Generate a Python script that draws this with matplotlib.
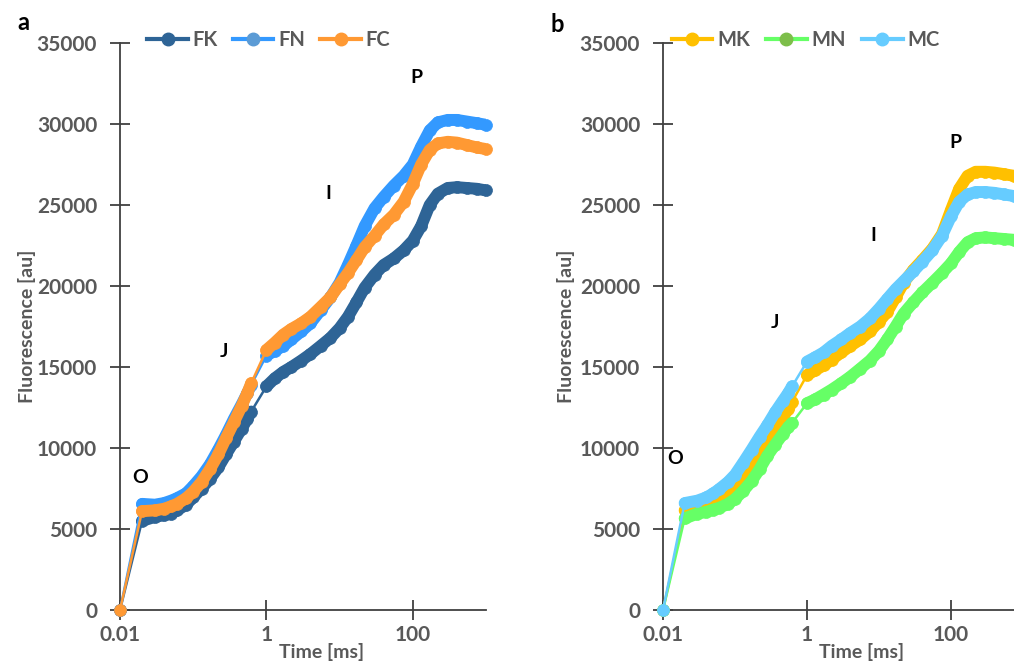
import numpy as np
import matplotlib
matplotlib.use("Agg")
import matplotlib.pyplot as plt
from matplotlib.lines import Line2D

plt.rcParams['font.family'] = ['Lato', 'DejaVu Sans']

# ---------------- data ----------------
time_ms = [0.01,
           0.02, 0.03, 0.04, 0.05, 0.06, 0.08, 0.10, 0.13, 0.17, 0.22, 0.28, 0.36, 0.46, 0.55, 0.62,
           1.0, 1.3, 1.7, 2.2, 3, 4, 5.5, 7.5, 10, 13, 17, 22, 30, 40, 55, 75, 100, 130, 170, 220,
           300, 400, 550, 750, 1000]

FK = [0,
      5500, 5750, 5850, 5950, 6150, 6500, 6950, 7500, 8100, 8800, 9600, 10400, 11200, 11800, 12250,
      13800, 14300, 14700, 15000, 15400, 15800, 16300, 16800, 17400, 18100, 19000, 19900, 20700,
      21300, 21700, 22200, 22800, 23700, 25000, 25700, 26050, 26100, 26050, 26000, 25900]
FN = [0,
      6550, 6500, 6600, 6750, 6900, 7200, 7650, 8250, 9000, 9900, 10800, 11800, 12700, 13400, 13900,
      15700, 16000, 16300, 16700, 17200, 17700, 18500, 19300, 20200, 21300, 22500, 23700, 24800,
      25500, 26200, 26800, 27500, 28600, 29600, 30100, 30250, 30250, 30150, 30050, 29950]
FC = [0,
      6100, 6150, 6250, 6400, 6550, 6900, 7300, 7900, 8700, 9600, 10600, 11600, 12600, 13400, 14000,
      16050, 16500, 17000, 17350, 17700, 18100, 18700, 19300, 20100, 20800, 21600, 22400, 23100,
      23800, 24400, 25200, 26300, 27500, 28400, 28800, 28900, 28850, 28700, 28550, 28450]

MK = [0,
      6150, 6250, 6450, 6600, 6800, 7100, 7500, 8100, 8900, 9700, 10400, 11200, 11900, 12400, 12850,
      14500, 14800, 15100, 15450, 15900, 16300, 16700, 17200, 17800, 18400, 19300, 20200, 21000,
      21600, 22300, 23200, 24700, 26000, 26800, 27050, 27050, 27000, 26900, 26800, 26700]
MN = [0,
      5650, 5950, 6050, 6200, 6300, 6550, 6850, 7350, 7950, 8700, 9500, 10200, 10850, 11300, 11550,
      12760, 13000, 13300, 13600, 14000, 14400, 14900, 15400, 16000, 16700, 17500, 18300, 19000,
      19600, 20200, 20800, 21400, 22100, 22700, 22950, 23000, 22950, 22900, 22850, 22800]
MC = [0,
      6600, 6750, 6950, 7200, 7450, 7900, 8350, 9100, 9900, 10700, 11400, 12200, 12900, 13400, 13800,
      15330, 15600, 15900, 16300, 16700, 17100, 17500, 18000, 18600, 19200, 19800, 20300, 20900,
      21500, 22200, 23100, 24300, 25200, 25650, 25800, 25800, 25750, 25650, 25550, 25450]

left_names = ['FK', 'FN', 'FC']
right_names = ['MK', 'MN', 'MC']
phase_labels = ['O', 'J', 'I', 'P']

x_ticks = [0.01, 1, 100]
x_tick_labels = ['0.01', '1', '100']
y_ticks = [0, 5000, 10000, 15000, 20000, 25000, 30000, 35000]

# ---------------- style ----------------
GRAY = '#595959'
AX = '#404040'
left_colors = ['#2E6496', '#3399FF', '#FF9933']
right_colors = ['#FFC000', '#66FF66', '#66CCFF']
left_legend_mk = ['#2E6496', '#5B9BD5', '#FF9933']
right_legend_mk = ['#FFC000', '#7DBE4A', '#66CCFF']

# annotation positions (time, value)
left_phase_pos = [(0.0188, 8150), (0.266, 15930), (7.06, 25740), (113, 32840)]
right_phase_pos = [(0.0147, 9380), (0.36, 17720), (8.25, 23090), (117, 28830)]

fig = plt.figure(figsize=(10.14, 6.64), dpi=100)
axL = fig.add_axes([120 / 1014, 54 / 664, 366 / 1014, 567 / 664])
axR = fig.add_axes([663 / 1014, 54 / 664, 360 / 1014, 567 / 664])

MS = 8.6


def draw(ax, t, y, lc, z):
    t = np.asarray(t, float)
    y = np.asarray(y, float)
    ax.plot(t, y, color=lc, lw=1.8, zorder=z, clip_on=False)
    lt = np.log10(t)
    d = np.diff(lt)
    start = 0
    for i in range(len(t) - 1):
        if d[i] > 0.19:
            if i > start:
                ax.plot(t[start:i + 1], y[start:i + 1], color=lc, lw=MS,
                        solid_capstyle='round', solid_joinstyle='round', zorder=z)
            start = i + 1
    if len(t) - 1 > start:
        ax.plot(t[start:], y[start:], color=lc, lw=MS,
                solid_capstyle='round', solid_joinstyle='round', zorder=z)
    ax.plot(t, y, ls='none', marker='o', ms=MS, mfc=lc, mec=lc, mew=0.5,
            zorder=z + 0.5, clip_on=False)


def style_axes(ax):
    ax.set_xscale('log')
    ax.set_xlim(0.01, 1000)
    ax.set_ylim(0, 35000)
    for s in ['top', 'right']:
        ax.spines[s].set_visible(False)
    for s in ['left', 'bottom']:
        ax.spines[s].set_color(AX)
        ax.spines[s].set_linewidth(1.3)
    ax.set_xticks(x_ticks)
    ax.set_xticklabels(x_tick_labels)
    ax.xaxis.set_minor_locator(matplotlib.ticker.NullLocator())
    ax.set_yticks(y_ticks)
    ax.set_yticklabels([str(v) for v in y_ticks])
    ax.tick_params(axis='both', direction='inout', length=15, width=1.3, color=AX,
                   labelcolor=GRAY, labelsize=15)
    ax.tick_params(axis='y', pad=9)
    ax.tick_params(axis='x', pad=3)
    for lab in ax.get_xticklabels() + ax.get_yticklabels():
        lab.set_fontweight('bold')
    ax.set_xlabel('Time [ms]', fontsize=14, fontweight='bold', color=GRAY)
    ax.xaxis.set_label_coords(0.552, -0.074)
    ax.xaxis.label.set_va('center')
    ax.set_ylabel('Fluorescence [au]', fontsize=14, fontweight='bold', color=GRAY)
    ax.set_facecolor('none')


for ax, names, series, colors, lmk, ppos, lx, cs in [
        (axL, left_names, [FK, FN, FC], left_colors, left_legend_mk, left_phase_pos, 0.075, 0.75),
        (axR, right_names, [MK, MN, MC], right_colors, right_legend_mk, right_phase_pos, 0.025, 0.8)]:
    style_axes(ax)
    for k, (vals, lc) in enumerate(zip(series, colors)):
        draw(ax, time_ms, vals, lc, 3 + k)
    for lab, (tx, ty) in zip(phase_labels, ppos):
        ax.text(tx, ty, lab, fontsize=14, fontweight='bold', color='black',
                ha='center', va='center', zorder=10)
    handles = [Line2D([0], [0], color=lc, lw=3, marker='o', ms=9, mfc=m, mec=m)
               for lc, m in zip(colors, lmk)]
    ax.legend(handles, names, loc='center left', bbox_to_anchor=(lx, 1.005),
              frameon=False, ncol=3, handlelength=2.0, handletextpad=0.25,
              columnspacing=cs, borderpad=0, borderaxespad=0,
              prop={'weight': 'bold', 'size': 14.5}, labelcolor=GRAY)

axL.yaxis.set_label_coords(-0.2295, 0.5)
axR.yaxis.set_label_coords(-0.244, 0.5)

fig.text(17 / 1014, 1 - 22 / 664, 'a', fontsize=17, fontweight='bold', ha='left', va='center')
fig.text(551 / 1014, 1 - 24 / 664, 'b', fontsize=17, fontweight='bold', ha='left', va='center')

fig.savefig('out.png', dpi=100)
